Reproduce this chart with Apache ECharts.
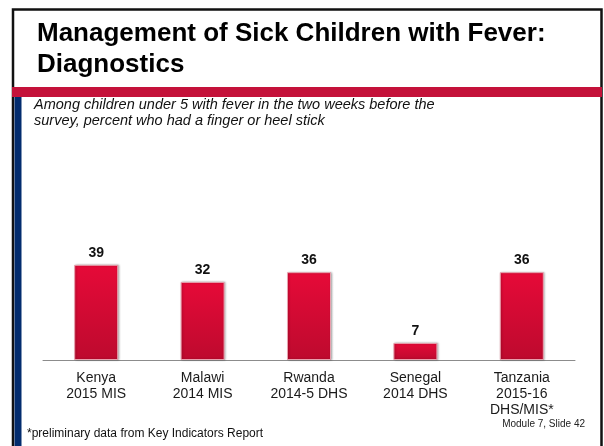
<!DOCTYPE html>
<html>
<head>
<meta charset="utf-8">
<script src="https://cdn.jsdelivr.net/npm/echarts@6/dist/echarts.min.js"></script>
<style>
  html, body { margin: 0; padding: 0; background: #fff; }
  #chart { width: 604px; height: 446px; }
</style>
</head>
<body>
<div id="chart"></div>
<script>
// survey labels and percentages
var categories = [
  "Kenya\n2015 MIS",
  "Malawi\n2014 MIS",
  "Rwanda\n2014-5 DHS",
  "Senegal\n2014 DHS",
  "Tanzania\n2015-16\nDHS/MIS*"
];
var values = [39, 32, 36, 7, 36];

var titleLines = "Management of Sick Children with Fever:\nDiagnostics";
var subtitle = "Among children under 5 with fever in the two weeks before the\nsurvey, percent who had a finger or heel stick";
var footnote = "*preliminary data from Key Indicators Report";
var slideNo = "Module 7, Slide 42";

var font = "Liberation Sans, Arial, sans-serif";

var myChart = echarts.init(document.getElementById("chart"));

var option = {
  animation: false,
  backgroundColor: "#fff",
  grid: {
    left: 43,
    right: 29,
    top: 238,
    bottom: 86
  },
  xAxis: {
    type: "category",
    data: categories,
    axisLine: { lineStyle: { color: "#8c8c8c", width: 1 } },
    axisTick: { show: false },
    axisLabel: {
      color: "#1a1a1a",
      fontFamily: font,
      fontSize: 14,
      lineHeight: 16,
      margin: 10,
      interval: 0
    }
  },
  yAxis: {
    type: "value",
    min: 0,
    max: 50,
    show: false
  },
  series: [
    {
      type: "bar",
      data: values,
      barWidth: 44,
      itemStyle: {
        color: new echarts.graphic.LinearGradient(0, 0, 0, 1, [
          { offset: 0, color: "#e60a38" },
          { offset: 1, color: "#bd0a2e" }
        ]),
        borderColor: "#e8a0ad",
        borderWidth: 1,
        shadowColor: "rgba(0,0,0,0.25)",
        shadowBlur: 2,
        shadowOffsetX: 1,
        shadowOffsetY: 0
      },
      label: {
        show: true,
        position: "top",
        distance: 5,
        color: "#111",
        fontFamily: font,
        fontWeight: "bold",
        fontSize: 14
      }
    }
  ],
  graphic: [
    // slide frame
    {
      type: "rect",
      shape: { x: 13, y: 9.5, width: 588.5, height: 450 },
      style: { fill: "none", stroke: "#111", lineWidth: 2.5 },
      silent: true
    },
    {
      type: "rect",
      shape: { x: 12, y: 87, width: 590, height: 10 },
      style: { fill: "#c4123a" },
      silent: true
    },
    {
      type: "rect",
      shape: { x: 14.5, y: 97, width: 7, height: 360 },
      style: { fill: "#032c6e" },
      silent: true
    },
    {
      type: "text",
      left: 37,
      top: 18,
      style: {
        text: titleLines,
        font: "bold 26px " + font,
        lineHeight: 31,
        fill: "#000"
      }
    },
    {
      type: "text",
      left: 34,
      top: 97,
      style: {
        text: subtitle,
        font: "italic 14.5px " + font,
        lineHeight: 16,
        fill: "#111"
      }
    },
    {
      type: "text",
      left: 27,
      top: 428,
      style: {
        text: footnote,
        font: "12px " + font,
        fill: "#111"
      }
    },
    {
      type: "text",
      right: 19,
      top: 419,
      style: {
        text: slideNo,
        font: "10px " + font,
        fill: "#222",
        textAlign: "right"
      }
    }
  ]
};

myChart.setOption(option);

window.addEventListener("resize", function() {
  myChart.resize();
});
</script>
</body>
</html>
